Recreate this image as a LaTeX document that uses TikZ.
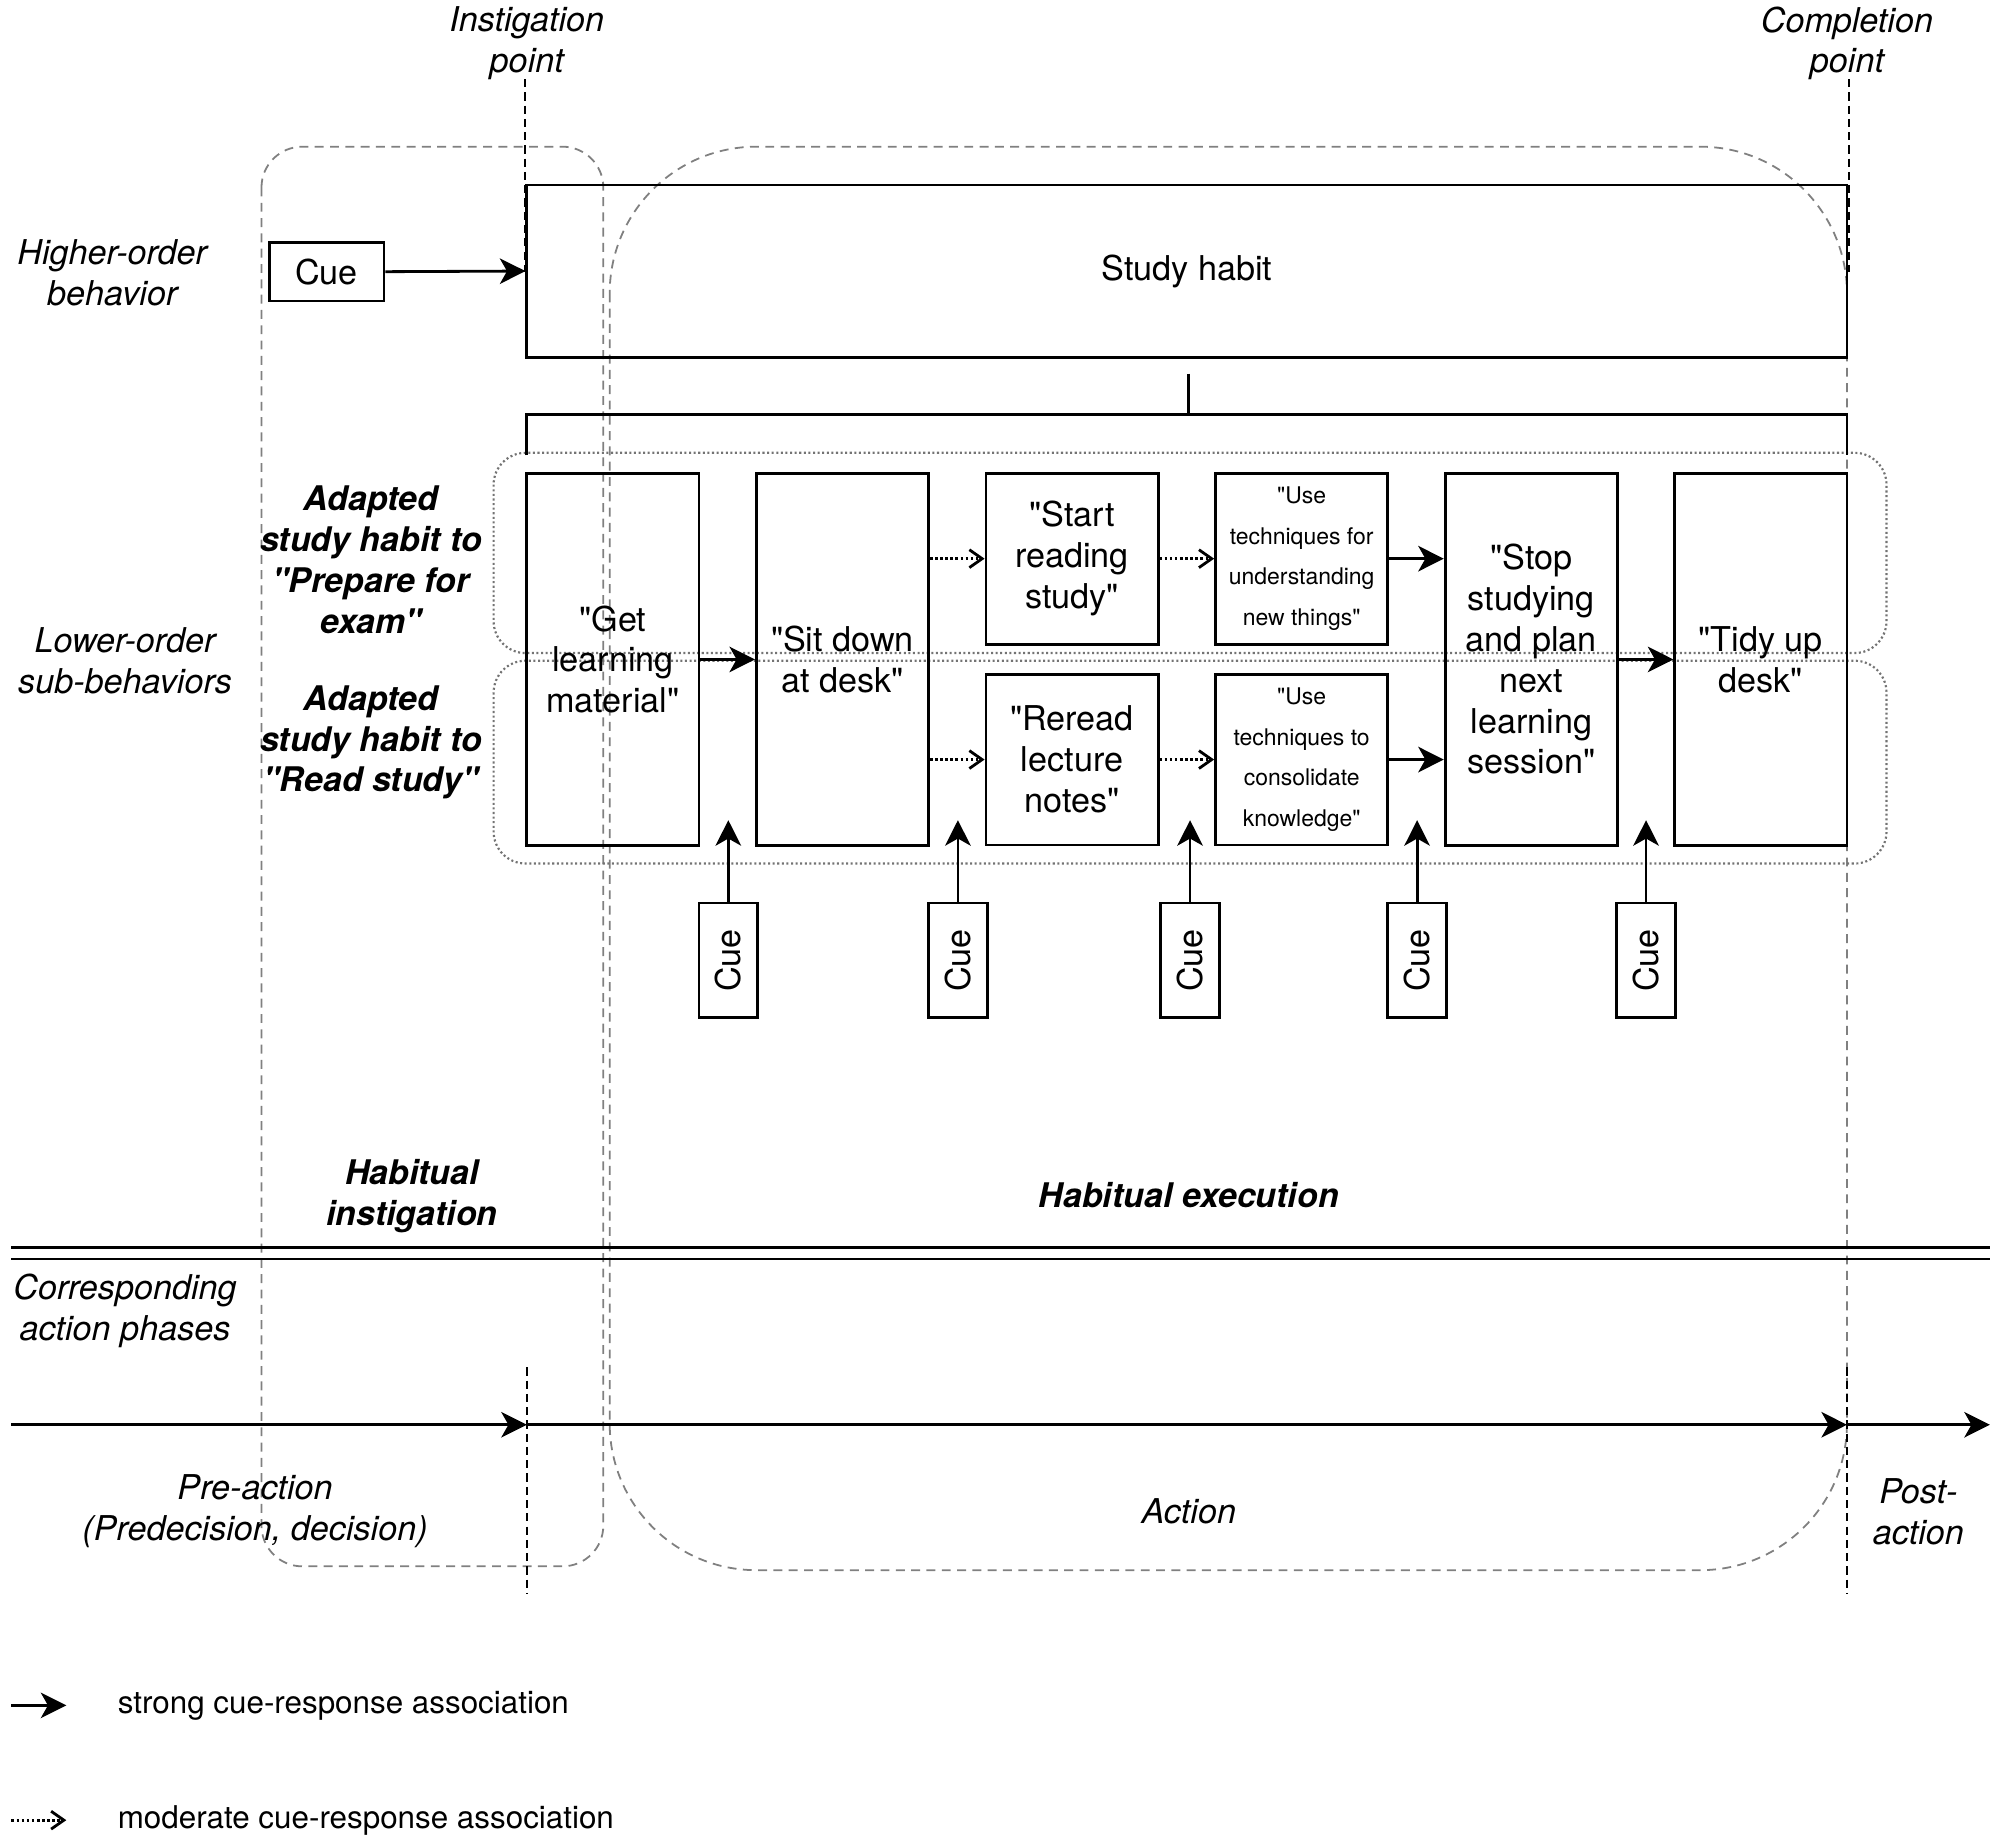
\documentclass[tikz,border=0pt]{standalone}
\usepackage{fontspec}
\setmainfont{TeX Gyre Heros}[Ligatures=TeXOff]
\usetikzlibrary{arrows.meta}
\newcommand\fsz[2]{\fontsize{#1}{#2}\selectfont}
\begin{document}
\begin{tikzpicture}[x=0.5pt,y=-0.5pt,
  box/.style={draw, line width=1.1pt, inner sep=0pt, align=center, font=\fsz{13.4}{16}},
  smallbox/.style={box, font=\fsz{9}{16}},
  lbl/.style={align=center, inner sep=0pt, font=\itshape\fsz{13.4}{16}},
  blbl/.style={align=center, inner sep=0pt, font=\bfseries\itshape\fsz{13.3}{16}},
  legendtxt/.style={anchor=west, inner sep=0pt, font=\fsz{12.3}{15}},
  strong/.style={-{Stealth[length=10pt,width=10pt,inset=2.8pt]}, line width=1.1pt},
  moderate/.style={-{Straight Barb[length=5pt,width=7pt]}, line width=1.1pt, dash pattern=on 1pt off 1pt},
  gdash/.style={draw=black!50, line width=0.7pt, dash pattern=on 3.5pt off 2.5pt},
  gdot/.style={draw=black!55, line width=0.85pt, dash pattern=on 0.8pt off 1pt},
  bdash/.style={line width=1pt, dash pattern=on 3.2pt off 2pt},
  plain/.style={line width=1.1pt}
]
\useasboundingbox (0,0) rectangle (1568,1445);

% background groupings
\draw[gdash, rounded corners=16pt] (205,115) rectangle (473,1228);
\draw[gdash, rounded corners=57.5pt] (478,115) rectangle (1448,1231);
\draw[gdot, rounded corners=12.5pt] (387,355) rectangle (1479,512);
\draw[gdot, rounded corners=12.5pt] (387,518) rectangle (1479,677);

% point labels and dashed markers
\node[lbl] (instig) at (413,34) {Instigation\\point};
\node[lbl] (compl) at (1448,34) {Completion\\point};
\coordinate (iA) at (411.5,62); \coordinate (iB) at (411.5,213);
\coordinate (cA) at (1449.5,62); \coordinate (cB) at (1449.5,213);
\coordinate (iC) at (413,1072); \coordinate (iD) at (413,1250);
\coordinate (cC) at (1448,1072); \coordinate (cD) at (1448,1250);
\draw[bdash] (iA) -- (iB);
\draw[bdash] (cA) -- (cB);
\draw[bdash] (iC) -- (iD);
\draw[bdash] (cC) -- (cD);

% higher-order behaviour
\node[lbl] (higher) at (88,214) {Higher-order\\behavior};
\node[box, minimum width=45pt, minimum height=23pt] (cue0) at (256,213) {Cue};
\node[box, minimum width=517.5pt, minimum height=67.5pt] (habit) at (930.5,212.5) {Study habit};
\draw[strong] (cue0.east) -- (habit.west);

% bracket
\coordinate (bk0) at (932,293);
\coordinate (bk1) at (932,325);
\coordinate (bkL) at (413,325);
\coordinate (bkR) at (1448,325);
\coordinate (bkLd) at (413,357);
\coordinate (bkRd) at (1448,357);
\draw[plain] (bk0) -- (bk1);
\draw[plain] (bkLd) -- (bkL) -- (bkR) -- (bkRd);

% left labels
\node[blbl] (prep) at (291,439) {Adapted\\study habit to\\"Prepare for\\exam"};
\node[lbl] (lower) at (98,518) {Lower-order\\sub-behaviors};
\node[blbl] (readst) at (291,582) {Adapted\\study habit to\\"Read study"};

% sub-behaviours
\node[box, minimum width=67.5pt, minimum height=146pt] (get) at (480.5,517) {"Get\\learning\\material"};
\node[box, minimum width=67.5pt, minimum height=146pt] (sit) at (660.5,517) {"Sit down\\at desk"};
\node[box, minimum width=67.5pt, minimum height=67pt] (start) at (840.5,438) {"Start\\reading\\study"};
\node[smallbox, minimum width=67.5pt, minimum height=67pt] (use1) at (1020.5,438) {"Use\\techniques for\\understanding\\new things"};
\node[box, minimum width=67.5pt, minimum height=67pt] (reread) at (840.5,595.5) {"Reread\\lecture\\notes"};
\node[smallbox, minimum width=67.5pt, minimum height=67pt] (use2) at (1020.5,595.5) {"Use\\techniques to\\consolidate\\knowledge"};
\node[box, minimum width=67.5pt, minimum height=146pt] (stop) at (1200.5,517) {"Stop\\studying\\and plan\\next\\learning\\session"};
\node[box, minimum width=67.5pt, minimum height=146pt] (tidy) at (1380.5,517) {"Tidy up\\desk"};

\draw[strong] (get.east) -- (sit.west);
\draw[moderate] (sit.east |- start.west) -- (start.west);
\draw[moderate] (start.east) -- (use1.west);
\draw[strong] (use1.east) -- (stop.west |- use1.east);
\draw[moderate] (sit.east |- reread.west) -- (reread.west);
\draw[moderate] (reread.east) -- (use2.west);
\draw[strong] (use2.east) -- (stop.west |- use2.east);
\draw[strong] (stop.east) -- (tidy.west);

% cues below
\node[box, rotate=90, minimum width=45pt, minimum height=23pt] (c1) at (571,753) {Cue};
\node[box, rotate=90, minimum width=45pt, minimum height=23pt] (c2) at (751,753) {Cue};
\node[box, rotate=90, minimum width=45pt, minimum height=23pt] (c3) at (933,753) {Cue};
\node[box, rotate=90, minimum width=45pt, minimum height=23pt] (c4) at (1111,753) {Cue};
\node[box, rotate=90, minimum width=45pt, minimum height=23pt] (c5) at (1290.5,753) {Cue};
\coordinate (t1) at (571,643);
\coordinate (t2) at (751,643);
\coordinate (t3) at (933,643);
\coordinate (t4) at (1111,643);
\coordinate (t5) at (1290.5,643);
\draw[strong] (c1.east) -- (t1);
\draw[strong] (c2.east) -- (t2);
\draw[strong] (c3.east) -- (t3);
\draw[strong] (c4.east) -- (t4);
\draw[strong] (c5.east) -- (t5);

% phase labels
\node[blbl] (hinst) at (323,938) {Habitual\\instigation};
\node[blbl] (hexec) at (932,937) {Habitual execution};

% separator
\coordinate (s1a) at (9,978); \coordinate (s1b) at (1560,978);
\coordinate (s2a) at (9,987); \coordinate (s2b) at (1560,987);
\draw[plain] (s1a) -- (s1b);
\draw[plain] (s2a) -- (s2b);

\node[lbl] (corr) at (98,1028) {Corresponding\\action phases};

% timeline
\coordinate (tl0) at (9,1117);
\coordinate (tlI) at (413,1117);
\coordinate (tlC) at (1448,1117);
\coordinate (tlE) at (1560,1117);
\draw[strong] (tl0) -- (tlI);
\draw[strong] (tlI) -- (tlC);
\draw[strong] (tlC) -- (tlE);

\node[lbl] (pre) at (200,1185) {Pre-action\\(Predecision, decision)};
\node[lbl] (act) at (932,1185) {Action};
\node[lbl] (post) at (1504,1185) {Post-\\action};

% legend
\coordinate (la) at (9,1337); \coordinate (lb) at (52,1337);
\coordinate (ma) at (9,1427); \coordinate (mb) at (52,1427);
\draw[strong] (la) -- (lb);
\draw[moderate] (ma) -- (mb);
\node[legendtxt] (ltxt1) at (92,1337) {strong cue-response association};
\node[legendtxt] (ltxt2) at (92,1427) {moderate cue-response association};
\end{tikzpicture}
\end{document}
